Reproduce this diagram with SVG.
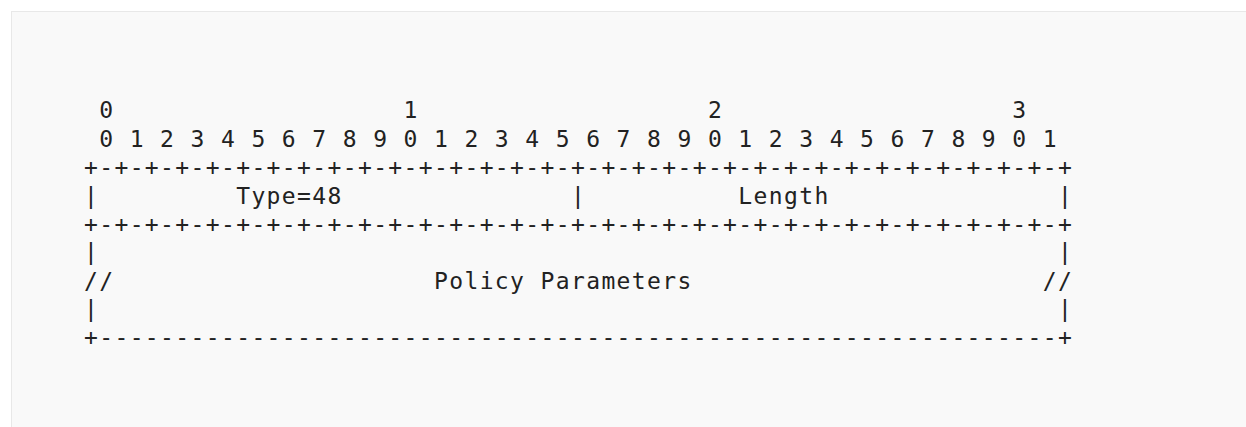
<svg xmlns="http://www.w3.org/2000/svg" width="1246" height="427" viewBox="0 0 1246 427">
  <style>
    .panel { fill: #f9f9f9; stroke: #e8e8e8; stroke-width: 1; }
    .art { font-family: "DejaVu Sans Mono", "Liberation Mono", monospace; font-size: 23px; letter-spacing: 1.37px; fill: #222222; white-space: pre; }
  </style>
  <rect class="panel" x="11.5" y="11.5" width="1250" height="430"/>
  <!-- packet format: bit ruler, header words and variable-length body -->
  <g id="packet-format" class="art">
    <text xml:space="preserve" x="84" y="118"> 0                   1                   2                   3</text>
    <text xml:space="preserve" x="84" y="146.5"> 0 1 2 3 4 5 6 7 8 9 0 1 2 3 4 5 6 7 8 9 0 1 2 3 4 5 6 7 8 9 0 1</text>
    <text xml:space="preserve" x="84" y="175">+-+-+-+-+-+-+-+-+-+-+-+-+-+-+-+-+-+-+-+-+-+-+-+-+-+-+-+-+-+-+-+-+</text>
    <text xml:space="preserve" x="84" y="203.5">|         Type=48               |          Length               |</text>
    <text xml:space="preserve" x="84" y="232">+-+-+-+-+-+-+-+-+-+-+-+-+-+-+-+-+-+-+-+-+-+-+-+-+-+-+-+-+-+-+-+-+</text>
    <text xml:space="preserve" x="84" y="260">|                                                               |</text>
    <text xml:space="preserve" x="84" y="288.5">//                     Policy Parameters                       //</text>
    <text xml:space="preserve" x="84" y="317">|                                                               |</text>
    <text xml:space="preserve" x="84" y="345">+---------------------------------------------------------------+</text>
  </g>
</svg>
